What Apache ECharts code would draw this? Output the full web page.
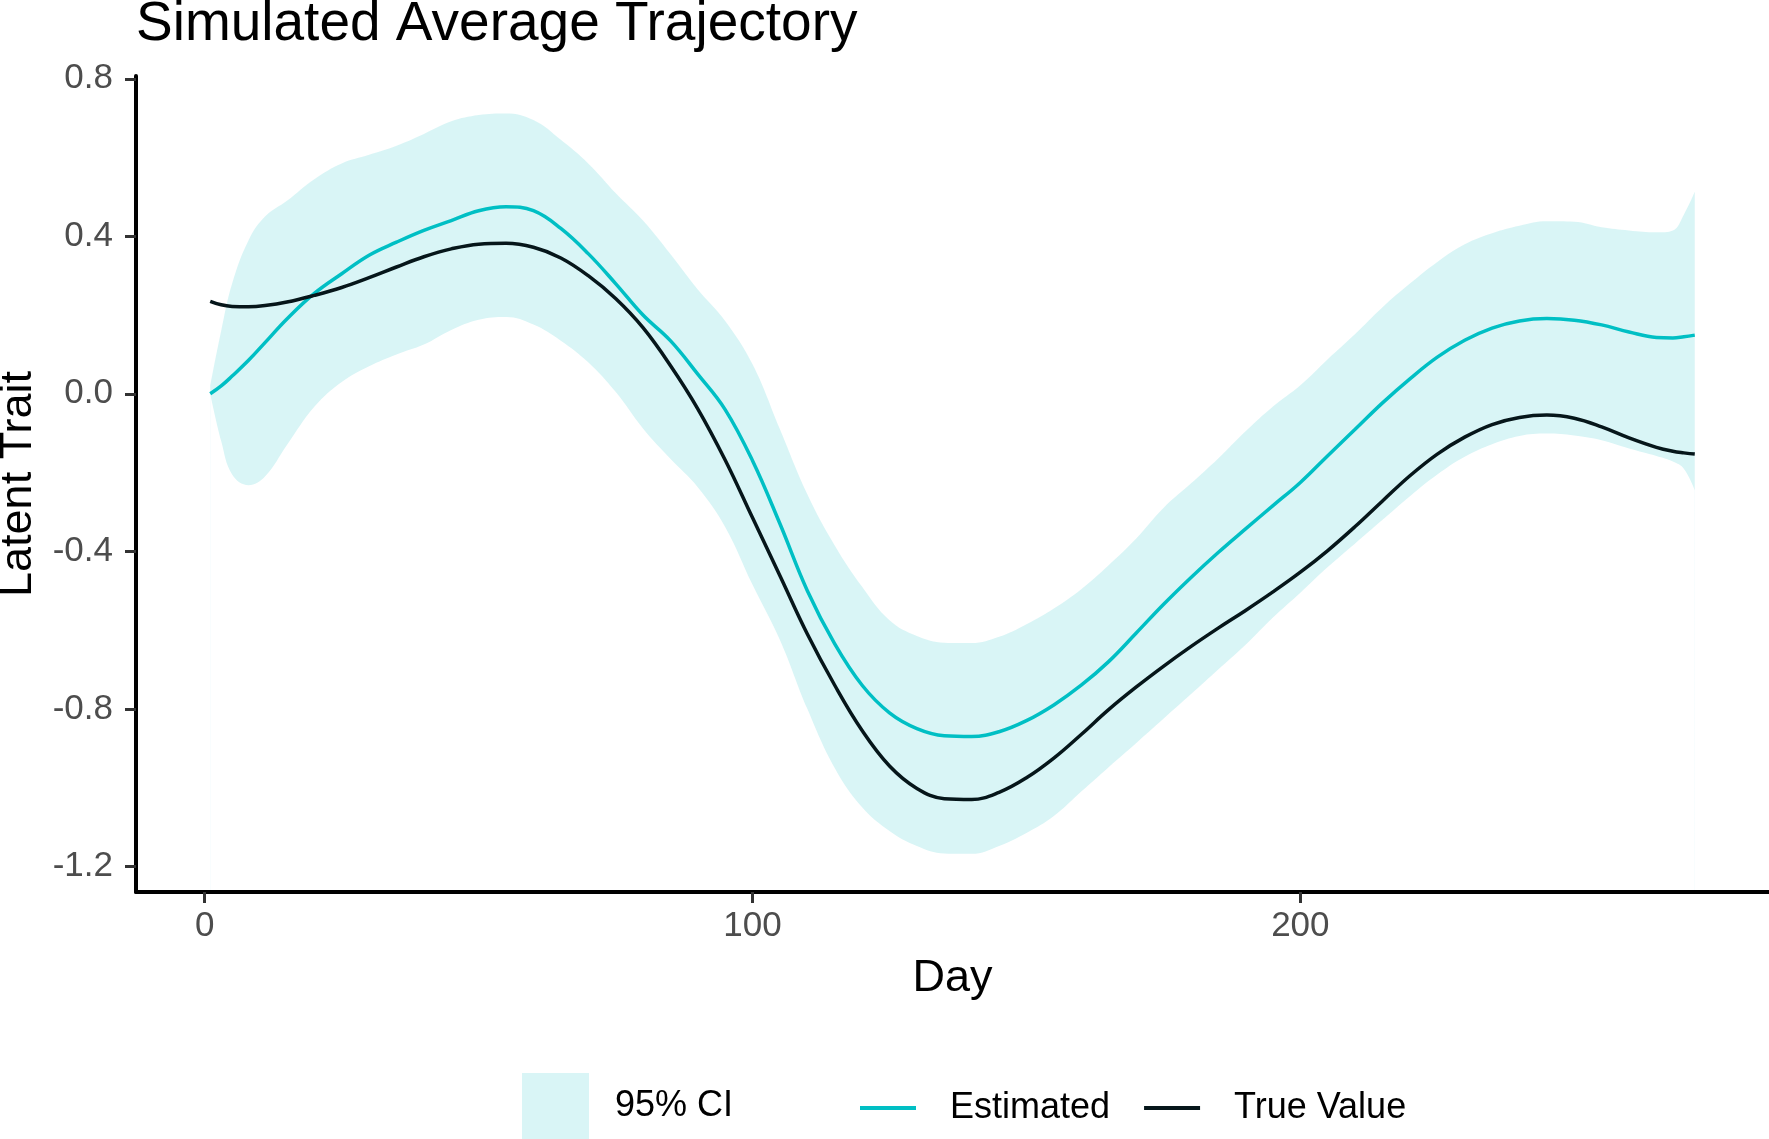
<!DOCTYPE html>
<html>
<head>
<meta charset="utf-8">
<title>Simulated Average Trajectory</title>
<script src="https://cdn.jsdelivr.net/npm/echarts@6/dist/echarts.min.js"></script>
<style>
  html, body { margin: 0; padding: 0; background: #fff; }
  #chart { width: 1769px; height: 1139px; }
</style>
</head>
<body>
<div id="chart"></div>
<script>
// ---- data ----
var days = [1, 3, 5, 8, 11, 15, 20, 25, 30, 35, 40, 45, 50, 55, 60, 65, 70, 75, 80, 85,
    90, 95, 100, 105, 110, 115, 120, 125, 130, 135, 140, 145, 150, 155, 160, 165, 170, 175, 180, 185,
    190, 195, 200, 205, 210, 215, 220, 225, 230, 235, 240, 245, 250, 255, 260, 265, 268, 270, 272];

var estimated = [0.0, 0.02, 0.045, 0.085, 0.13, 0.19, 0.255, 0.305, 0.352, 0.385, 0.415, 0.44, 0.465, 0.475, 0.465, 0.42, 0.356, 0.28, 0.20, 0.135,
    0.05, -0.04, -0.17, -0.33, -0.50, -0.635, -0.74, -0.81, -0.85, -0.868, -0.870, -0.858, -0.83, -0.79, -0.74, -0.68, -0.608, -0.535, -0.467, -0.403,
    -0.343, -0.284, -0.225, -0.157, -0.09, -0.023, 0.038, 0.093, 0.136, 0.167, 0.185, 0.191, 0.187, 0.175, 0.157, 0.143, 0.142, 0.145, 0.149];

var trueValue = [0.235, 0.226, 0.222, 0.221, 0.224, 0.233, 0.25, 0.27, 0.295, 0.322, 0.348, 0.368, 0.38, 0.382, 0.372, 0.345, 0.3, 0.242, 0.168, 0.072,
    -0.038, -0.168, -0.315, -0.462, -0.61, -0.74, -0.855, -0.945, -1.002, -1.028, -1.03, -1.012, -0.975, -0.925, -0.865, -0.802, -0.745, -0.692, -0.642, -0.595,
    -0.55, -0.503, -0.453, -0.398, -0.337, -0.272, -0.208, -0.153, -0.11, -0.078, -0.06, -0.054, -0.062, -0.084, -0.112, -0.136, -0.146, -0.15, -0.153];

var ciUpper = [0.02, 0.16, 0.28, 0.39, 0.45, 0.49, 0.545, 0.585, 0.607, 0.63, 0.66, 0.692, 0.708, 0.712, 0.695, 0.645, 0.585, 0.51, 0.44, 0.355,
    0.265, 0.185, 0.075, -0.09, -0.255, -0.385, -0.49, -0.575, -0.615, -0.632, -0.633, -0.617, -0.585, -0.545, -0.496, -0.435, -0.368, -0.29, -0.228, -0.164,
    -0.095, -0.032, 0.022, 0.088, 0.152, 0.22, 0.28, 0.335, 0.38, 0.408, 0.427, 0.438, 0.437, 0.423, 0.415, 0.41, 0.415, 0.455, 0.513];

var ciLower = [0.0, -0.12, -0.205, -0.232, -0.21, -0.13, -0.033, 0.03, 0.07, 0.1, 0.125, 0.162, 0.188, 0.195, 0.176, 0.135, 0.08, 0.005, -0.088, -0.165,
    -0.237, -0.338, -0.485, -0.625, -0.80, -0.95, -1.05, -1.11, -1.148, -1.167, -1.168, -1.148, -1.115, -1.072, -1.01, -0.948, -0.887, -0.825, -0.763, -0.70,
    -0.637, -0.568, -0.505, -0.44, -0.38, -0.32, -0.26, -0.205, -0.16, -0.128, -0.107, -0.101, -0.106, -0.118, -0.139, -0.158, -0.172, -0.19, -0.244];

var xTicks = [0, 100, 200];
var yTicks = [-1.2, -0.8, -0.4, 0, 0.4, 0.8];

// ---- [day, value] pairs for the value x axis ----
function pairs(arr) {
    var out = [];
    for (var i = 0; i < days.length; i++) out.push([days[i], arr[i]]);
    return out;
}

var FONT = 'Liberation Sans, Arial, sans-serif';
var CYAN = '#00BFC4';
var DARK = '#06161a';

var myChart = echarts.init(document.getElementById('chart'), null, { renderer: 'canvas' });
var option = {
    animation: false,
    backgroundColor: '#fff',
    title: {
        text: 'Simulated Average Trajectory',
        left: 136,
        top: -3,
        padding: 0,
        textStyle: { fontFamily: FONT, fontSize: 55, fontWeight: 'normal', color: '#000' }
    },
    grid: { left: 136, right: 0, top: 76, bottom: 247, containLabel: false, outerBoundsMode: 'none' },
    legend: [
        {//---band key
            left: 522, top: 1073, padding: 0,
            itemWidth: 67, itemHeight: 66,
            selectedMode: false,
            data: [{ name: '95% CI', icon: 'rect', itemStyle: { color: '#d9f5f6', borderWidth: 0 } }],
            textStyle: { fontFamily: FONT, fontSize: 36, color: '#000', padding: [0, 0, 0, 21] }
        },
        {//---line keys
            left: 860, top: 1090, padding: 0,
            itemWidth: 56, itemHeight: 4, itemGap: 34,
            selectedMode: false,
            data: [
                { name: 'Estimated', icon: 'rect', itemStyle: { color: CYAN, borderWidth: 0 } },
                { name: 'True Value', icon: 'rect', itemStyle: { color: DARK, borderWidth: 0 } }
            ],
            textStyle: { fontFamily: FONT, fontSize: 36, color: '#000', padding: [0, 0, 0, 29] }
        }
    ],
    xAxis: {
        type: 'value', z: 10,
        min: -12.55, max: 285.55,
        name: 'Day', nameLocation: 'middle', nameGap: 64,
        nameTextStyle: { fontFamily: FONT, fontSize: 45, color: '#000' },
        splitLine: { show: false },
        axisLine: { show: true, onZero: false, lineStyle: { color: '#000', width: 4 } },
        axisTick: { show: true, length: 11, customValues: xTicks, lineStyle: { color: '#333', width: 3 } },
        axisLabel: { customValues: xTicks, margin: 17, fontFamily: FONT, fontSize: 35, color: '#4d4d4d' }
    },
    yAxis: {
        type: 'value', z: 10,
        min: -1.265, max: 0.807,
        name: 'Latent Trait', nameLocation: 'middle', nameGap: 95,
        nameTextStyle: { fontFamily: FONT, fontSize: 45, color: '#000' },
        splitLine: { show: false },
        axisLine: { show: true, onZero: false, lineStyle: { color: '#000', width: 4 } },
        axisTick: { show: true, length: 11, customValues: yTicks, lineStyle: { color: '#333', width: 3 } },
        axisLabel: {
            customValues: yTicks, margin: 23, fontFamily: FONT, fontSize: 35, color: '#4d4d4d',
            formatter: function (v) { return v.toFixed(1); }
        }
    },
    series: [
        {//---band: fill from bottom up to upper edge
            name: '95% CI', type: 'line', data: pairs(ciUpper),
            smooth: 0.4, symbol: 'none', silent: true,
            itemStyle: { color: '#d9f5f6' },
            lineStyle: { opacity: 0 },
            areaStyle: { color: 'rgba(0,191,196,0.15)', opacity: 1, origin: 'start' }
        },
        {//---band: blank out below the lower edge
            name: 'ciLower', type: 'line', data: pairs(ciLower),
            smooth: 0.4, symbol: 'none', silent: true,
            itemStyle: { color: '#fff' },
            lineStyle: { opacity: 0 },
            areaStyle: { color: '#fff', opacity: 1, origin: 'start' }
        },
        {
            name: 'Estimated', type: 'line', data: pairs(estimated),
            smooth: 0.4, symbol: 'none',
            itemStyle: { color: CYAN },
            lineStyle: { color: CYAN, width: 3.5 }
        },
        {
            name: 'True Value', type: 'line', data: pairs(trueValue),
            smooth: 0.4, symbol: 'none',
            itemStyle: { color: DARK },
            lineStyle: { color: DARK, width: 3.5 }
        }
    ]
};
myChart.setOption(option);
</script>
</body>
</html>
